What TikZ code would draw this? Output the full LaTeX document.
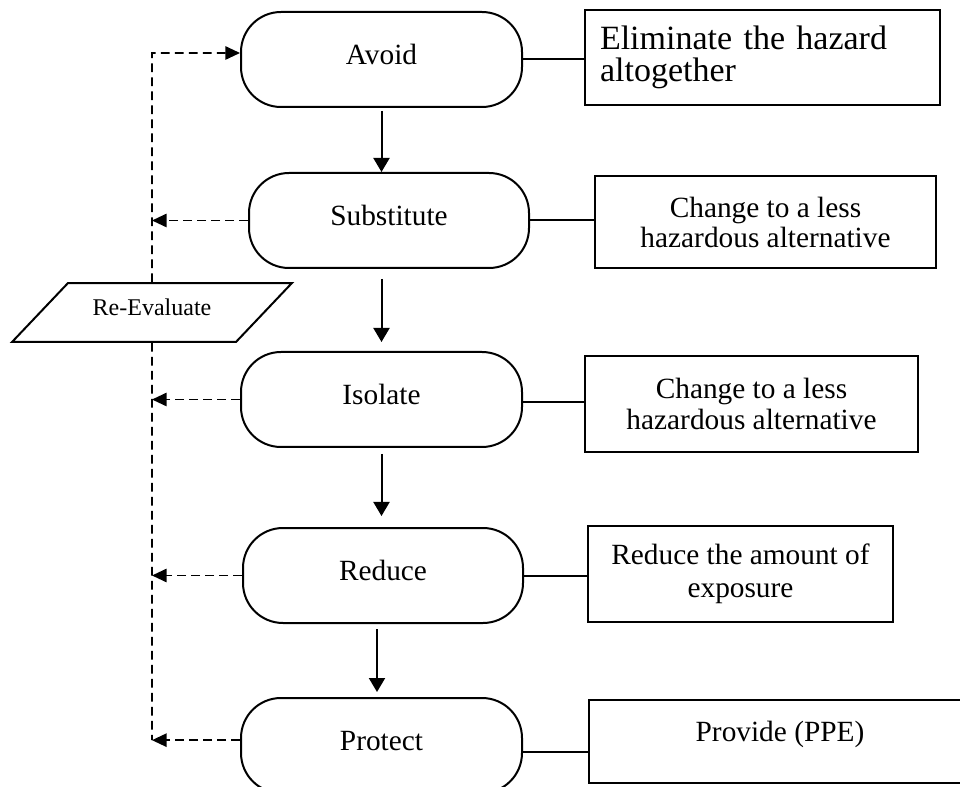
\documentclass[tikz,border=0pt]{standalone}
\usepackage{fontspec}
\setmainfont{Liberation Serif}
\usetikzlibrary{arrows.meta,shapes.geometric}
\newdimen\pxu
\pxu=0.75pt

\begin{document}
\begin{tikzpicture}[x=0.75pt,y=-0.75pt,
  stage/.style={draw, line width=1.5pt, rectangle, rounded corners=30pt,
    minimum width=281\pxu, minimum height=95\pxu, inner sep=0pt,
    font=\fontsize{22}{24}\selectfont, text height=15.4pt, text depth=8.4pt},
  note/.style={draw, line width=1.5pt, rectangle, inner sep=0pt, align=center,
    font=\fontsize{22}{22.5}\selectfont},
  flow/.style={line width=1.5pt, -{Triangle[width=12pt,length=10.5pt]}},
  link/.style={line width=1.5pt},
  loopline/.style={line width=1.4pt, dash pattern=on 6.5pt off 4pt},
  back/.style={loopline, -{Triangle[width=10pt,length=11pt]}},
]
\useasboundingbox (0,0) rectangle (960,787);
\clip (0,0) rectangle (960,787);

% control stages
\node[stage] (avoid) at (381.5,59.5) {Avoid};
\node[stage, minimum width=280\pxu] (sub) at (389,220.5) {Substitute};
\node[stage] (iso) at (381.5,399.5) {Isolate};
\node[stage, minimum width=280\pxu] (red) at (383,575.5) {Reduce};
\node[stage] (prot) at (381.5,745.5) {Protect};

% descriptions
\node[note, align=left, text width=325\pxu, inner xsep=15\pxu, minimum height=95\pxu,
  font=\fontsize{25.5}{24}\selectfont] (elim) at (762.5,57.5)
  {Eliminate the hazard\\altogether};
\node[note, minimum width=341\pxu, minimum height=92\pxu] (subnote) at (765.5,222)
  {Change to a less\\hazardous alternative};
\node[note, minimum width=333\pxu, minimum height=96\pxu,
  font=\fontsize{22}{23}\selectfont] (isonote) at (751.5,404)
  {Change to a less\\hazardous alternative};
\node[note, minimum width=305\pxu, minimum height=96\pxu,
  font=\fontsize{22}{25}\selectfont] (rednote) at (740.5,574)
  {Reduce the amount of\\exposure};
\node[note, minimum width=382\pxu, minimum height=83\pxu,
  text height=16.5pt, text depth=16.5pt] (provnote) at (780,741.5) {Provide (PPE)};

% feedback box
\node[draw, line width=1.5pt, trapezium, trapezium left angle=46.5,
  trapezium right angle=133.5, inner sep=0pt, align=center,
  text width=168\pxu, text height=24.7pt, text depth=19.5pt,
  font=\fontsize{18}{20}\selectfont] (reeval) at (152,312.5) {Re-Evaluate};

\coordinate (loopTop) at (152,53);
\coordinate (loopBot) at (152,740);

% main sequence
\draw[flow, shorten <=3\pxu] (avoid.south) -- (avoid.south |- sub.north);
\draw[flow, shorten <=10\pxu, shorten >=9\pxu] (iso.north |- sub.south) -- (iso.north);
\draw[flow, shorten <=6\pxu, shorten >=11\pxu] (iso.south) -- (iso.south |- red.north);
\draw[flow, shorten <=5\pxu, shorten >=5\pxu]
  ([xshift=-6\pxu]red.south) -- ([xshift=-6\pxu]red.south |- prot.north);

% links to descriptions
\draw[link] (avoid.east) -- (avoid.east -| elim.west);
\draw[link] (sub.east) -- (sub.east -| subnote.west);
\draw[link] ([yshift=-2pt]iso.east) -- ([yshift=-2pt]iso.east -| isonote.west);
\draw[link] (red.east) -- (red.east -| rednote.west);
\draw[link] ([yshift=-5pt]prot.east) -- ([yshift=-5pt]prot.east -| provnote.west);

% re-evaluation loop
\draw[back] (reeval.north) -- (loopTop) -- (loopTop -| avoid.west);
\draw[loopline] (reeval.south) -- (loopBot);
\draw[back] (sub.west) -- (sub.west -| loopBot);
\draw[back] (iso.west) -- (iso.west -| loopBot);
\draw[back] (red.west) -- (red.west -| loopBot);
\draw[back] ([yshift=4pt]prot.west) -- ([yshift=4pt]prot.west -| loopBot);
\end{tikzpicture}
\end{document}
